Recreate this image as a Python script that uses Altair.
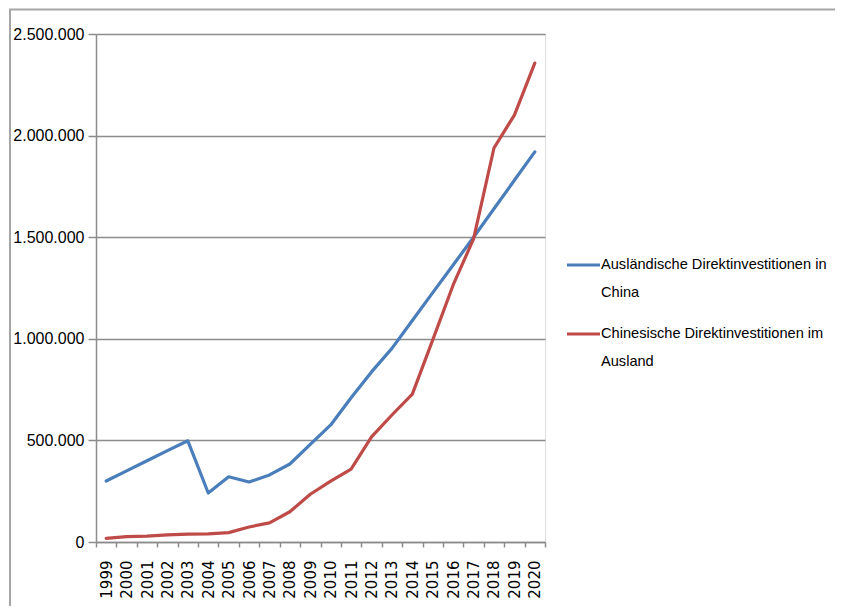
import altair as alt
import pandas as pd

years = [str(y) for y in range(1999, 2021)]
series_names = ["Ausländische Direktinvestitionen in China",
                "Chinesische Direktinvestitionen im Ausland"]
legend_labels = ["Ausländische Direktinvestitionen in\nChina",
                 "Chinesische Direktinvestitionen im\nAusland"]
colors = ["#4A7EBB", "#BE4B48"]

fdi_in = [300000, 350000, 400000, 450000, 498000, 241000, 321000, 295000, 330000, 384000,
          480000, 576000, 710000, 837000, 953000, 1090000, 1227000, 1363000, 1500000,
          1640000, 1780000, 1920000]
odi_out = [18000, 26000, 29000, 35000, 39000, 40000, 46000, 74000, 94000, 149000,
           235000, 300000, 359000, 517000, 625000, 728000, 995000, 1265000, 1492000,
           1939000, 2101000, 2357000]
y_ticks = [0, 500000, 1000000, 1500000, 2000000, 2500000]

df = pd.DataFrame({
    "Jahr": years * 2,
    "Wert": fdi_in + odi_out,
    "Serie": [series_names[0]] * len(years) + [series_names[1]] * len(years),
})

W, H = 449, 508

lines = alt.Chart(df).mark_line(strokeWidth=3.2, strokeCap="round", strokeJoin="round").encode(
    x=alt.X("Jahr:O", title=None,
            scale=alt.Scale(paddingInner=0, paddingOuter=0),
            axis=alt.Axis(labelAngle=-90, tickBand="extent", tickSize=5,
                          labelPadding=13, labelFont="DejaVu Sans", labelFontSize=15,
                          labelColor="#000000", domainColor="#8c8c8c", tickColor="#8c8c8c",
                          domainWidth=1.5, tickWidth=1.5, grid=False)),
    y=alt.Y("Wert:Q", title=None,
            scale=alt.Scale(domain=[0, 2500000], nice=False),
            axis=alt.Axis(values=y_ticks,
                          labelExpr="replace(format(datum.value, ','), /,/g, '.')",
                          tickSize=8, labelPadding=4, labelFont="Liberation Sans",
                          labelFontSize=16, labelColor="#000000",
                          domainColor="#8c8c8c", tickColor="#8c8c8c",
                          domainWidth=1.5, tickWidth=1.5,
                          grid=True, gridColor="#8c8c8c", gridWidth=1.5)),
    color=alt.Color("Serie:N", scale=alt.Scale(domain=series_names, range=colors), legend=None),
)

frame = alt.Chart(pd.DataFrame({"a": [0]})).mark_rect(
    fill=None, stroke="#a6a6a6", strokeWidth=2
).encode(x=alt.value(-86), x2=alt.value(760), y=alt.value(-24.5), y2=alt.value(620))

legend_layers = []
sym_y = [231, 300]
for i in range(2):
    legend_layers.append(
        alt.Chart(pd.DataFrame({"a": [0]})).mark_rule(
            color=colors[i], strokeWidth=3.2
        ).encode(x=alt.value(471), x2=alt.value(504), y=alt.value(sym_y[i]))
    )
    legend_layers.append(
        alt.Chart(pd.DataFrame({"a": [0]})).mark_text(
            text=legend_labels[i], lineBreak="\n", align="left", baseline="middle",
            font="Liberation Sans", fontSize=14.6, lineHeight=28, color="#000000"
        ).encode(x=alt.value(505), y=alt.value(sym_y[i]))
    )

chart = alt.layer(frame, lines, *legend_layers).properties(
    width=W, height=H,
    autosize=alt.AutoSizeParams(type="none"),
    padding={"left": 88, "top": 26, "right": 290, "bottom": 64},
).configure_view(stroke=None).configure(background="white")

chart.save("out.html", embed_options={"renderer": "svg", "actions": False})
